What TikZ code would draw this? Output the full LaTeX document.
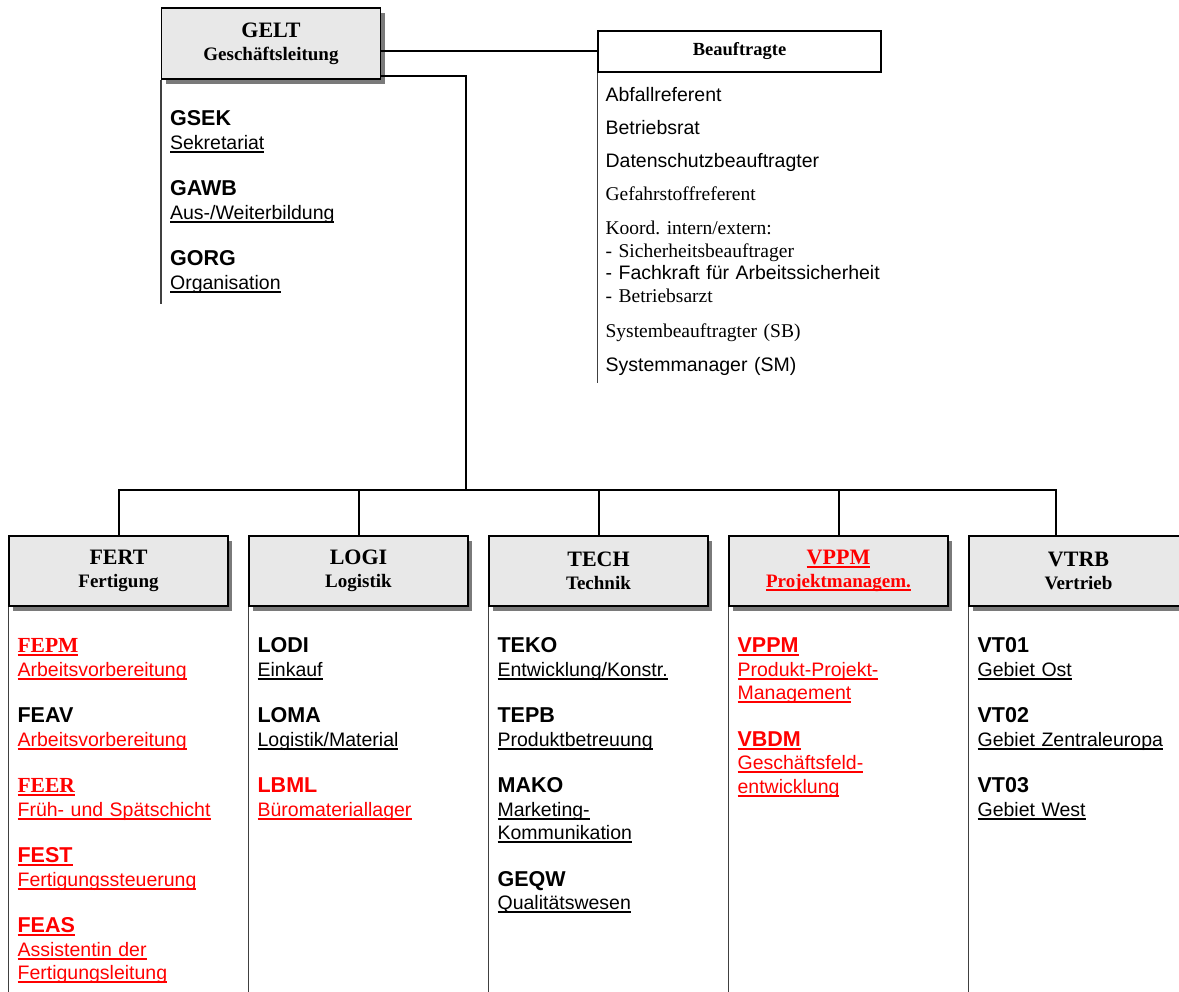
\documentclass[tikz,border=0pt]{standalone}
\usepackage{fontspec}
\setmainfont{Liberation Sans}
\newfontfamily\tnr{Liberation Serif}
\usepackage{xcolor}
\usetikzlibrary{positioning,shadows}

\definecolor{boxgray}{HTML}{E8E8E8}
\definecolor{shadegray}{HTML}{7A7A7A}
\definecolor{orgred}{HTML}{FF0000}

\newcommand{\undl}[1]{\leavevmode\setbox0\hbox{#1}\rlap{\rule[-3.5pt]{\wd0}{1.7pt}}\box0}
\newcommand{\code}[1]{{\fontsize{21.5}{23.5}\selectfont\bfseries #1}}
\newcommand{\rd}[1]{{\leavevmode\color{orgred}#1}}
\frenchspacing

\begin{document}
\begin{tikzpicture}[x=1pt, y=-1pt,
  unit/.style={draw, line width=1.2pt, fill=boxgray, minimum width=219, minimum height=70, inner sep=0pt, align=center,
    font=\tnr\bfseries\fontsize{19}{23}\selectfont,
    drop shadow={shadow xshift=4pt, shadow yshift=-5pt, fill=shadegray, opacity=1}},
  plain/.style={draw, line width=1.2pt, fill=white, minimum width=283, minimum height=41, inner sep=0pt, font=\tnr\bfseries\fontsize{18.5}{21}\selectfont},
  list/.style={anchor=base west, text width=212, align=left, inner sep=0pt, font=\fontsize{19.5}{23.5}\selectfont},
  link/.style={line width=2pt},
  rule/.style={line width=1.2pt, draw=black!75}]
\useasboundingbox (0,0) rectangle (1179,992);
\clip (0,0) rectangle (1179,992);

\node[unit, minimum height=71] (gelt) at (271,43.5) {{\fontsize{22}{23}\selectfont GELT}\\Geschäftsleitung};
\node[plain] (beauf) at (739.5,51.5) {Beauftragte};

\node[unit] (fert) at (118.5,571) {{\fontsize{22}{23}\selectfont FERT}\\Fertigung};
\node[unit, right=19.8pt of fert] (logi) {{\fontsize{22}{23}\selectfont LOGI}\\Logistik};
\node[unit, right=19.8pt of logi] (tech) {{\fontsize{22}{23}\selectfont TECH}\\Technik};
\node[unit, right=19.8pt of tech] (vppm) {\rd{\undl{\fontsize{22}{23}\selectfont VPPM}}\\\rd{\undl{Projektmanagem.}}};
\node[unit, right=19.8pt of vppm] (vtrb) {{\fontsize{22}{23}\selectfont VTRB}\\Vertrieb};

\coordinate (bus) at (466,490);
\draw[link] (beauf.west -| gelt.east) -- (beauf.west);
\draw[link] ([yshift=4pt]gelt.south east) -| (bus);
\draw[link] (fert.north) |- (bus) -| ([xshift=-22.5pt]vtrb.north);
\foreach \n in {logi,tech,vppm}
  \draw[link] (\n.north) -- (\n.north |- bus);

\draw[rule] (gelt.south west) -- ++(0,224);
\draw[rule] (beauf.south west) -- ++(0,310);
\foreach \n in {fert,logi,tech,vppm,vtrb}
  \draw[rule] (\n.south west) -- ++(0,390);

\node[list] (geltlist) at ([xshift=9pt, yshift=-46pt]gelt.south west) {
  \code{GSEK}\\ \undl{Sekretariat}\\[23pt]
  \code{GAWB}\\ \undl{Aus-/Weiterbildung}\\[23pt]
  \code{GORG}\\ \undl{Organisation}};

\node[list, text width=275, font=\fontsize{19.5}{22.5}\selectfont] (beauflist) at ([xshift=8pt, yshift=-29pt]beauf.south west) {
  Abfallreferent\\[10.5pt]
  Betriebsrat\\[10.5pt]
  Datenschutzbeauftragter\\[10.5pt]
  {\tnr Gefahrstoffreferent}\\[11.5pt]
  {\tnr Koord. intern/extern:}\\
  {\tnr - Sicherheitsbeauftrager}\\
  - Fachkraft für Arbeitssicherheit\\
  {\tnr - Betriebsarzt}\\[12.5pt]
  {\tnr Systembeauftragter (SB)}\\[11.5pt]
  Systemmanager (SM)};

\node[list] (fertlist) at ([xshift=9pt, yshift=-46pt]fert.south west) {
  \rd{\undl{\code{\tnr FEPM}}}\\ \rd{\undl{Arbeitsvorbereitung}}\\[23pt]
  \code{FEAV}\\ \rd{\undl{Arbeitsvorbereitung}}\\[23pt]
  \rd{\undl{\code{\tnr FEER}}}\\ \rd{\undl{Früh- und Spätschicht}}\\[23pt]
  \rd{\undl{\code{FEST}}}\\ \rd{\undl{Fertigungssteuerung}}\\[23pt]
  \rd{\undl{\code{FEAS}}}\\ \rd{\undl{Assistentin der}}\\ \rd{\undl{Fertigungsleitung}}};

\node[list] (logilist) at ([xshift=9pt, yshift=-46pt]logi.south west) {
  \code{LODI}\\ \undl{Einkauf}\\[23pt]
  \code{LOMA}\\ \undl{Logistik/Material}\\[23pt]
  \rd{\code{LBML}}\\ \rd{\undl{Büromateriallager}}};

\node[list] (techlist) at ([xshift=9pt, yshift=-46pt]tech.south west) {
  \code{TEKO}\\ \undl{Entwicklung/Konstr.}\\[23pt]
  \code{TEPB}\\ \undl{Produktbetreuung}\\[23pt]
  \code{MAKO}\\ \undl{Marketing-}\\ \undl{Kommunikation}\\[23pt]
  \code{GEQW}\\ \undl{Qualitätswesen}};

\node[list] (vppmlist) at ([xshift=9pt, yshift=-46pt]vppm.south west) {
  \rd{\undl{\code{VPPM}}}\\ \rd{\undl{Produkt-Projekt-}}\\ \rd{\undl{Management}}\\[23pt]
  \rd{\undl{\code{VBDM}}}\\ \rd{\undl{Geschäftsfeld-}}\\ \rd{\undl{entwicklung}}};

\node[list] (vtrblist) at ([xshift=9pt, yshift=-46pt]vtrb.south west) {
  \code{VT01}\\ \undl{Gebiet Ost}\\[23pt]
  \code{VT02}\\ \undl{Gebiet Zentraleuropa}\\[23pt]
  \code{VT03}\\ \undl{Gebiet West}};
\end{tikzpicture}
\end{document}
